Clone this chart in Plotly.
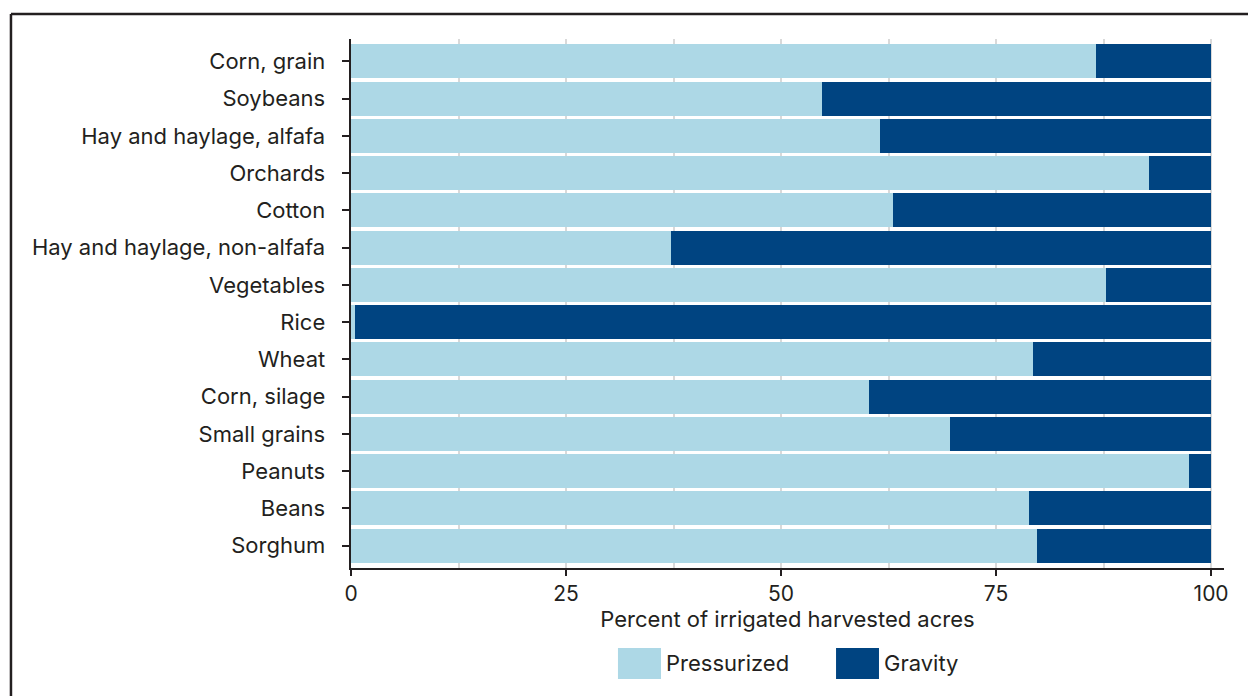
import plotly.graph_objects as go

crops = ["Corn, grain", "Soybeans", "Hay and haylage, alfafa", "Orchards", "Cotton",
         "Hay and haylage, non-alfafa", "Vegetables", "Rice", "Wheat", "Corn, silage",
         "Small grains", "Peanuts", "Beans", "Sorghum"]
pressurized = [86.6, 54.8, 61.5, 92.8, 63.0, 37.2, 87.8, 0.5, 79.3, 60.2, 69.7, 97.4, 78.8, 79.7]
gravity = [13.4, 45.2, 38.5, 7.2, 37.0, 62.8, 12.2, 99.5, 20.7, 39.8, 30.3, 2.6, 21.2, 20.3]
x_ticks = [0, 25, 50, 75, 100]
series_names = ["Pressurized", "Gravity"]
LIGHT = "#add8e6"
DARK = "#004481"
TXT = "#231f20"
FONT = "Inter"

fig = go.Figure()
fig.add_trace(go.Bar(y=crops, x=pressurized, orientation="h", name=series_names[0],
                     marker=dict(color=LIGHT, line=dict(width=0))))
fig.add_trace(go.Bar(y=crops, x=gravity, orientation="h", name=series_names[1],
                     marker=dict(color=DARK, line=dict(width=0))))

fig.update_layout(
    barmode="stack",
    bargap=0.087,
    width=1248, height=696,
    margin=dict(l=351, r=24, t=39, b=128),
    paper_bgcolor="white", plot_bgcolor="white",
    showlegend=False,
    font=dict(family=FONT, size=22, color=TXT),
)
fig.update_xaxes(
    range=[0, 101.5], tickvals=x_ticks, ticktext=[str(v) for v in x_ticks],
    showgrid=False, zeroline=False,
    showline=True, linecolor=TXT, linewidth=2,
    ticks="outside", ticklen=6, tickwidth=1.5, tickcolor=TXT,
    tickfont=dict(size=21, family=FONT, color=TXT),
    title=dict(text="Percent of irrigated harvested acres", font=dict(size=22, family=FONT, color=TXT), standoff=6),
)
# minor gridlines every 12.5
fig.update_xaxes(minor=dict(tickvals=[12.5 * i for i in range(1, 9)], showgrid=True,
                            gridcolor="#d9d9d9", gridwidth=1.5, ticks=""))
fig.update_yaxes(
    categoryorder="array", categoryarray=crops,
    range=[13.6, -0.6],
    showgrid=False, zeroline=False,
    showline=True, linecolor=TXT, linewidth=2,
    ticks="outside", ticklen=7, tickwidth=2, tickcolor=TXT,
    tickfont=dict(size=22, family=FONT, color=TXT),
    ticksuffix="  ",
)

# frame lines
fig.add_shape(type="line", xref="paper", yref="paper", x0=-0.3895, x1=1.05, y0=1.0473, y1=1.0473,
              line=dict(color=TXT, width=2.5))
fig.add_shape(type="line", xref="paper", yref="paper", x0=-0.3895, x1=-0.3895, y0=1.0473, y1=-0.26,
              line=dict(color=TXT, width=2.5))

# legend (manual swatches)
legend_items = [(series_names[0], LIGHT, 0.3058, 0.3551), (series_names[1], DARK, 0.5556, 0.6048)]
for name, col, x0, x1 in legend_items:
    fig.add_shape(type="rect", xref="paper", yref="paper", x0=x0, x1=x1, y0=-0.2098, y1=-0.1512,
                  fillcolor=col, line=dict(width=0))
    fig.add_annotation(xref="paper", yref="paper", x=x1 + 0.004, y=-0.1796, text=name,
                       showarrow=False, xanchor="left", yanchor="middle",
                       font=dict(size=22, family=FONT, color=TXT))

fig.write_html("out.html", config={"displayModeBar": False},
               post_script="document.body.style.margin='0';document.body.style.overflow='hidden';")
